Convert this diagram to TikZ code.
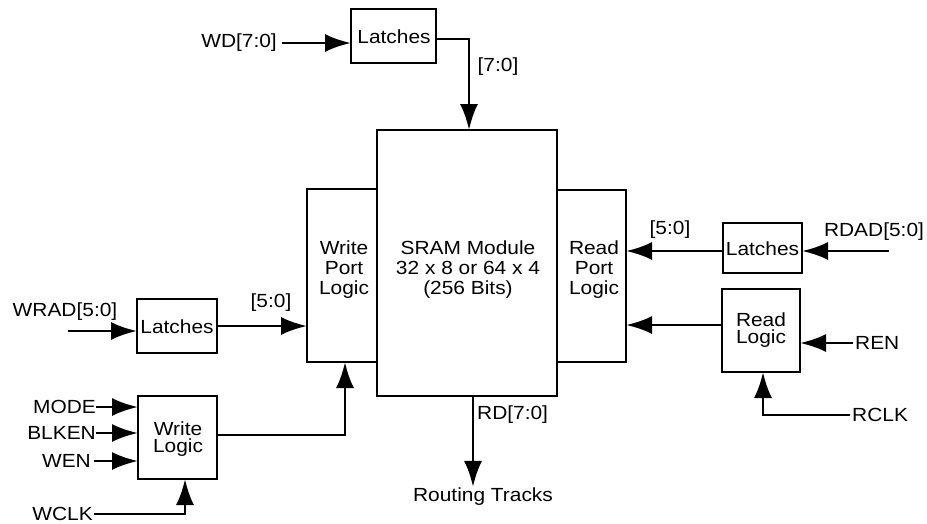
\documentclass[tikz,border=0pt]{standalone}
\usepackage{fontspec}
\setmainfont{Liberation Sans}[FakeStretch=1.1]
\usetikzlibrary{arrows.meta}
\begin{document}
\begin{tikzpicture}[x=1pt,y=-1pt,
  every node/.style={font=\fontsize{19}{20}\selectfont, inner sep=1pt},
  blk/.style={draw, line width=2.8pt, inner sep=0pt, outer sep=0pt},
  txt/.style={align=center, font=\fontsize{19}{20}\selectfont},
  tight/.style={align=center, font=\fontsize{19}{17.5}\selectfont},
  arr/.style={line width=2.8pt, -{Latex[length=26pt,width=18pt]}},
  ln/.style={line width=2.8pt}]
\useasboundingbox (0,0) rectangle (927,523);
% boxes
\node[blk, minimum width=180pt, minimum height=266pt] (sram) at (467,263) {};
\node[blk, minimum width=70pt, minimum height=173pt] (wpl) at (342,275.5) {};
\node[blk, minimum width=69pt, minimum height=172pt] (rpl) at (591.5,276) {};
\node[blk, minimum width=85pt, minimum height=54pt] (tl) at (393.5,36) {};
\node[blk, minimum width=79pt, minimum height=50pt] (rl) at (762.5,248) {};
\node[blk, minimum width=78pt, minimum height=83pt] (rlog) at (761,330.5) {};
\node[blk, minimum width=80pt, minimum height=54pt] (wl) at (177,326) {};
\node[blk, minimum width=79pt, minimum height=83pt] (wlog) at (177.5,437.5) {};
% box texts
\node[txt] (sramt) at (468,270) {SRAM Module\\32 x 8 or 64 x 4\\(256 Bits)};
\node[txt] (wplt) at (344,270) {Write\\Port\\Logic};
\node[txt] (rplt) at (594,270) {Read\\Port\\Logic};
\node[txt] (tlt) at (394,37) {Latches};
\node[txt] (rlt) at (762.5,249) {Latches};
\node[txt] (wlt) at (177,327) {Latches};
\node[tight] (rlogt) at (761,330) {Read\\Logic};
\node[tight] (wlogt) at (178,439) {Write\\Logic};
% top
\node[anchor=east] (wd) at (278,43) {WD[7:0]};
\draw[arr] ([xshift=4pt]wd.east) -- (wd.east -| tl.west);
\draw[arr] ([yshift=-3pt]tl.east) -| ([xshift=2pt]sram.north);
\node (l70) at (498,67) {[7:0]};
% right
\node (rdad) at (874,232) {RDAD[5:0]};
\coordinate (rdadin) at (889,251);
\draw[arr] (rdadin) -- (rdadin -| rl.east);
\draw[arr] ([yshift=-3pt]rl.west) -- ([yshift=-3pt]rl.west -| rpl.east);
\node (l50r) at (670,230) {[5:0]};
\draw[arr] ([yshift=5.5pt]rlog.west) -- ([yshift=5.5pt]rlog.west -| rpl.east);
\node[anchor=west, inner sep=0pt] (ren) at (855,343) {REN};
\draw[arr] ([xshift=-2pt]ren.west) -- (ren.west -| rlog.east);
\node[anchor=west, inner sep=0pt] (rclk) at (852,415) {RCLK};
\draw[arr] ([xshift=-2pt]rclk.west) -| ([xshift=2pt]rlog.south);
% left
\node (wrad) at (65,312) {WRAD[5:0]};
\coordinate (wradin) at (68,331);
\draw[arr] (wradin) -- (wradin -| wl.west);
\draw[arr] (wl.east) -- (wl.east -| wpl.west);
\node (l50w) at (271,303) {[5:0]};
\node[anchor=east, inner sep=0pt] (mode) at (96,407) {MODE};
\draw[arr] (mode.east) -- (mode.east -| wlog.west);
\node[anchor=east, inner sep=0pt] (blken) at (96,433) {BLKEN};
\draw[arr] (blken.east) -- (blken.east -| wlog.west);
\node[anchor=east, inner sep=0pt] (wen) at (91,461) {WEN};
\draw[arr] ([xshift=3pt]wen.east) -- (wen.east -| wlog.west);
\node[anchor=east, inner sep=0pt] (wclk) at (93,514) {WCLK};
\draw[arr] ([xshift=1pt]wclk.east) -| ([xshift=7.5pt]wlog.south);
\draw[arr] ([yshift=2.5pt]wlog.east) -| ([xshift=3pt]wpl.south);
% bottom
\node (rt) at (483,497) {Routing Tracks};
\draw[arr] ([xshift=6pt]sram.south) -- ([xshift=6pt]sram.south |- rt.north);
\node[anchor=west] (rd) at (476,415) {RD[7:0]};
\end{tikzpicture}
\end{document}
